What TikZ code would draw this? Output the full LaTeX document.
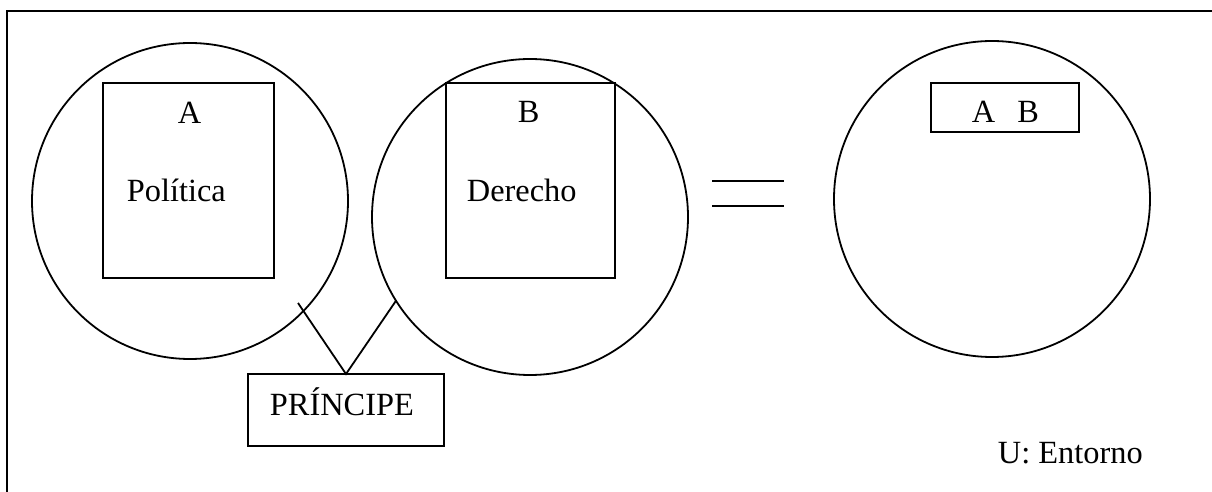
\documentclass[tikz,border=0pt]{standalone}
\usepackage{fontspec}
\setmainfont{Liberation Serif}
\begin{document}
\begin{tikzpicture}[x=1bp,y=-1bp,
  line width=1.8bp,
  ring/.style={draw,circle,minimum size=316bp,inner sep=0pt,outer sep=0pt},
  boxA/.style={draw,rectangle,inner sep=0pt,outer sep=0pt},
  lbl/.style={anchor=base west,inner sep=0pt,font=\fontsize{32.5}{38}\selectfont}]
\useasboundingbox (0,0) rectangle (1212,492);
% frame (only top and left sides visible)
\coordinate (fa) at (7,492);
\coordinate (fb) at (7,11);
\coordinate (fc) at (1212,11);
\draw (fa) -- (fb) -- (fc);
% circles
\node[ring] (c1) at (190,201) {};
\node[ring] (c2) at (530,217) {};
\node[ring] (c3) at (992,199) {};
% inner boxes
\node[boxA,minimum width=171bp,minimum height=195bp] (ra) at (188.5,180.5) {};
\node[boxA,minimum width=169bp,minimum height=195bp] (rb) at (530.5,180.5) {};
\node[boxA,minimum width=196bp,minimum height=72bp] (pr) at (346,410) {};
\node[boxA,minimum width=148bp,minimum height=49bp] (rab) at (1005,107.5) {};
% texts
\node[lbl] (ta) at (177,124) {A};
\node[lbl] (tp) at (126,202) {Política};
\node[lbl] (tb) at (517,123) {B};
\node[lbl] (td) at (466,202) {Derecho};
\node[lbl] (tpr) at (269,415) {PRÍNCIPE};
\node[lbl] (tab) at (971,123) {A\hspace{22bp}B};
\node[lbl] (tu) at (997,463) {U: Entorno};
% connectors
\coordinate (l1) at (298,303);
\draw (l1) -- (pr.north) -- (c2.212.7);
% equals sign
\coordinate (e1) at (712,181);
\coordinate (e2) at (784,181);
\coordinate (e3) at (712,206);
\coordinate (e4) at (784,206);
\draw (e1) -- (e2);
\draw (e3) -- (e4);
\end{tikzpicture}
\end{document}
